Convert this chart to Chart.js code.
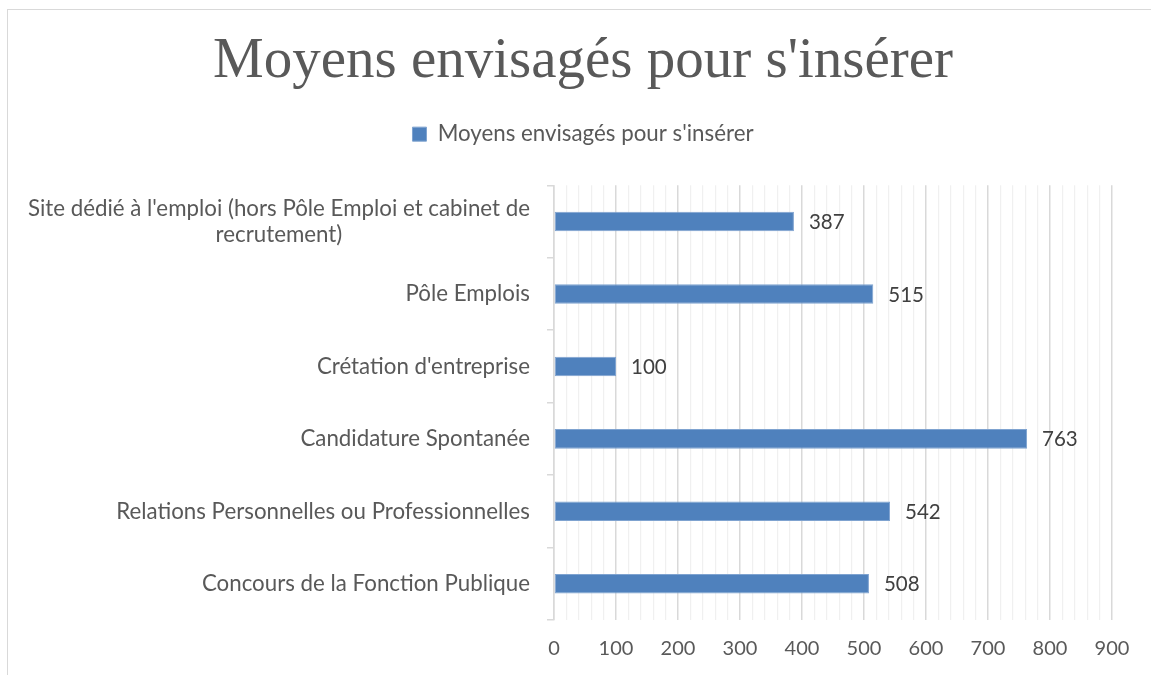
<!DOCTYPE html>
<html>
<head>
<meta charset="utf-8">
<script src="https://cdn.jsdelivr.net/npm/chart.js@4.4.0/dist/chart.umd.min.js"></script>
<style>
  html, body { margin: 0; padding: 0; background: #ffffff; overflow: hidden; }
  #wrap { position: relative; width: 1151px; height: 675px; }
  #frame { position: absolute; left: 7px; top: 9px; width: 1160px; height: 700px; border: 1.5px solid #d9d9d9; box-sizing: border-box; }
  canvas { position: absolute; left: 0; top: 0; }
</style>
</head>
<body>
<div id="wrap">
  <div id="frame"></div>
  <canvas id="c" width="1151" height="675"></canvas>
</div>
<script>
const titleText = "Moyens envisagés pour s'insérer";
const seriesName = "Moyens envisagés pour s'insérer";
const categories = [
  ["Site dédié à l'emploi (hors Pôle Emploi et cabinet de", "recrutement)"],
  "Pôle Emplois",
  "Crétation d'entreprise",
  "Candidature Spontanée",
  "Relations Personnelles ou Professionnelles",
  "Concours de la Fonction Publique"
];
const values = [387, 515, 100, 763, 542, 508];
const axisMin = 0;
const axisMax = 900;
const majorStep = 100;
const minorStep = 20;

const FONT = "Lato";
const barColor = "#4f81bd";

const categoryLabelPlugin = {
  id: 'categoryLabels',
  afterDraw(chart) {
    const ctx = chart.ctx;
    const y = chart.scales.y;
    ctx.save();
    ctx.font = "22.3px " + FONT;
    ctx.fillStyle = "#595959";
    ctx.textBaseline = "middle";
    ctx.textAlign = "center";
    const right = y.right - 24;
    const lineH = 26;
    categories.forEach((lab, i) => {
      const lines = Array.isArray(lab) ? lab : [lab];
      const maxW = Math.max(...lines.map(l => ctx.measureText(l).width));
      const cx = right - maxW / 2;
      const cy = y.getPixelForValue(i);
      const start = cy - (lines.length - 1) * lineH / 2;
      lines.forEach((l, k) => ctx.fillText(l, cx, start + k * lineH));
    });
    ctx.restore();
  }
};

const dataLabelPlugin = {
  id: 'dataLabels',
  afterDatasetsDraw(chart) {
    const ctx = chart.ctx;
    const meta = chart.getDatasetMeta(0);
    ctx.save();
    ctx.font = "20.5px " + FONT;
    ctx.fillStyle = "#404040";
    ctx.textBaseline = "middle";
    ctx.textAlign = "left";
    meta.data.forEach((bar, i) => {
      ctx.fillText(String(values[i]), bar.x + 15, bar.y + 1);
    });
    ctx.restore();
  }
};

new Chart(document.getElementById('c'), {
  type: 'bar',
  data: {
    labels: categories,
    datasets: [{
      label: seriesName,
      data: values,
      backgroundColor: barColor,
      borderColor: "#7fa3d0",
      borderWidth: 1,
      borderSkipped: false,
      categoryPercentage: 1,
      barPercentage: 0.27
    }]
  },
  options: {
    indexAxis: 'y',
    responsive: false,
    animation: false,
    events: [],
    layout: { padding: { left: 15, right: 0, top: 0, bottom: -3 } },
    plugins: {
      title: {
        display: true,
        text: titleText,
        color: "#595959",
        font: { family: "Liberation Serif", size: 57, weight: 'normal', lineHeight: 1.2 },
        padding: { top: 28, bottom: 16.6 }
      },
      subtitle: {
        display: true,
        text: ' ',
        weight: 500,
        font: { size: 10, lineHeight: 1.2 },
        padding: { top: 0, bottom: 18 }
      },
      legend: {
        display: true,
        position: 'top',
        labels: {
          color: "#595959",
          font: { family: FONT, size: 22.3 },
          boxWidth: 14,
          boxHeight: 14,
          padding: 10
        }
      },
      tooltip: { enabled: false }
    },
    scales: {
      x: {
        type: 'linear',
        min: axisMin,
        max: axisMax,
        ticks: {
          stepSize: minorStep,
          autoSkip: false,
          maxRotation: 0,
          padding: 17,
          color: "#595959",
          font: { family: FONT, size: 20 },
          callback: (v) => (v % majorStep === 0 ? String(v) : '')
        },
        grid: {
          drawTicks: false,
          color: (c) => (c.tick && c.tick.value % majorStep === 0 ? '#d9d9d9' : '#f0f0f0'),
          lineWidth: (c) => (c.tick && c.tick.value % majorStep === 0 ? 1.5 : 1.2)
        },
        border: { display: false }
      },
      y: {
        type: 'category',
        offset: true,
        afterFit: (s) => { s.width = 539; },
        ticks: { color: 'rgba(0,0,0,0)', font: { family: FONT, size: 20 } },
        grid: {
          offset: true,
          drawOnChartArea: false,
          drawTicks: true,
          tickLength: 7,
          color: '#d9d9d9',
          lineWidth: 1.5
        },
        border: { display: true, color: '#d9d9d9', width: 1.5 }
      },
      yRightSpace: {
        type: 'category',
        position: 'right',
        display: true,
        afterFit: (s) => { s.width = 39; },
        ticks: { display: false },
        grid: { display: false },
        border: { display: false }
      }
    }
  },
  plugins: [categoryLabelPlugin, dataLabelPlugin]
});
</script>
</body>
</html>
